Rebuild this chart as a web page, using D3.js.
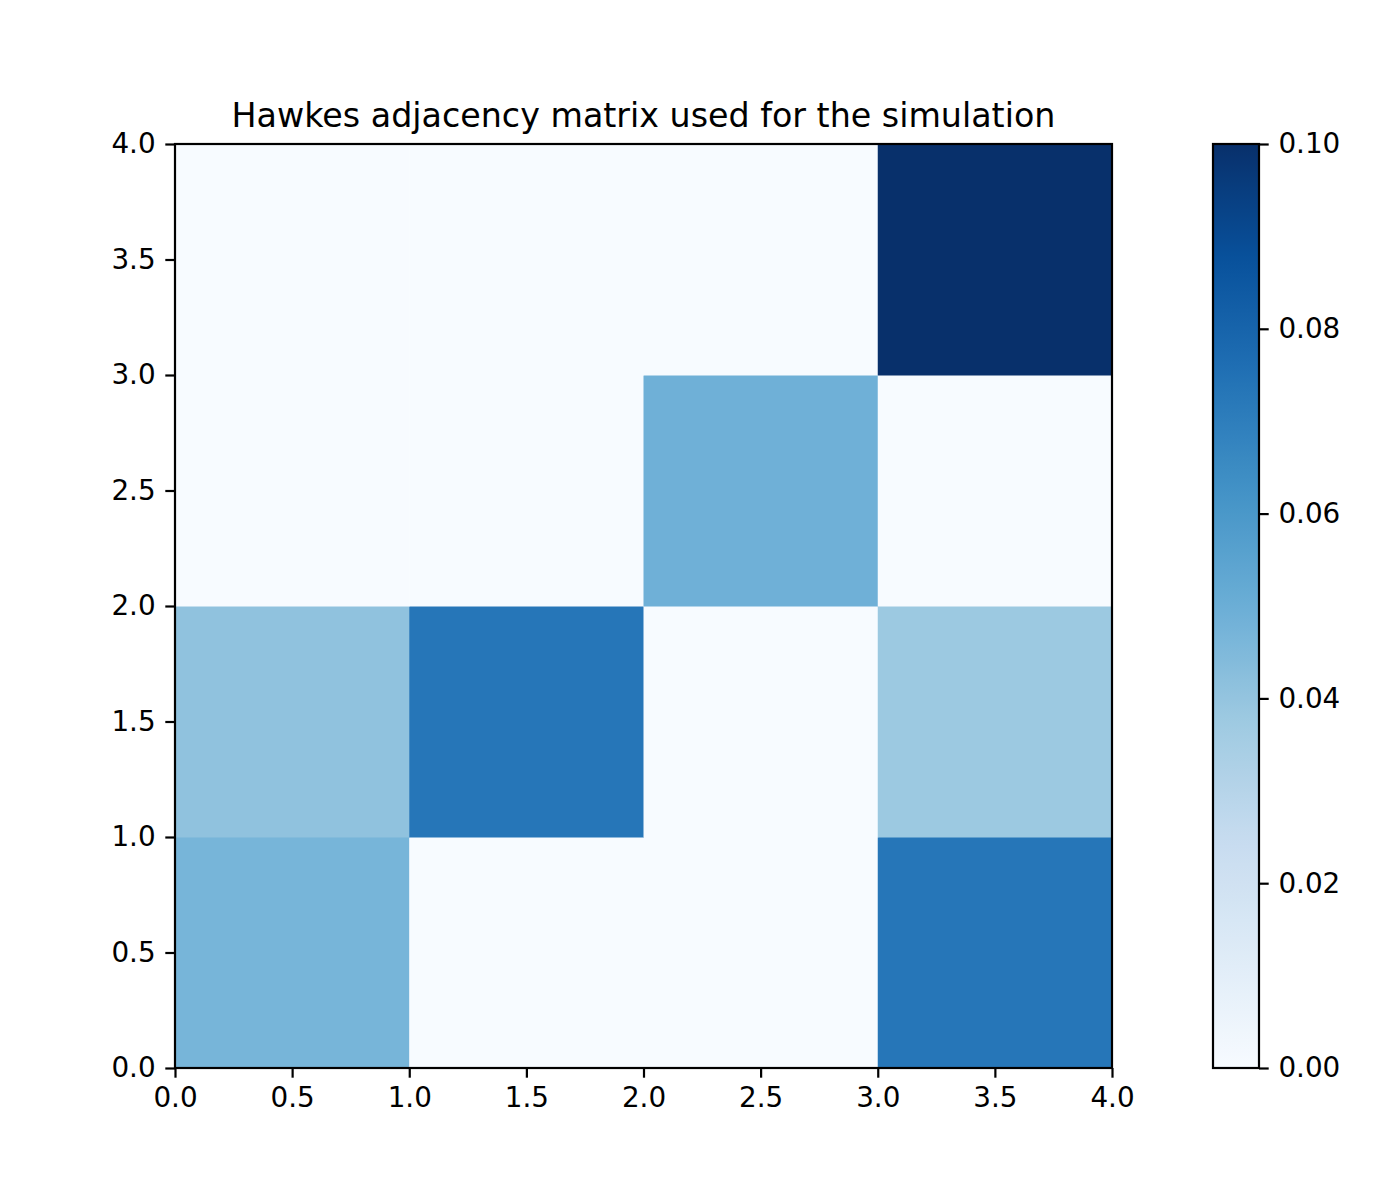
<!DOCTYPE html>
<html>
<head>
<meta charset="utf-8">
<script src="https://cdn.jsdelivr.net/npm/d3@7"></script>
<style>
  body { margin: 0; background: #fff; }
  text { font-family: "DejaVu Sans", sans-serif; }
</style>
</head>
<body>
<div id="chart"></div>
<script>
"use strict";

// adjacency matrix, row i covers y in [i, i+1], column j covers x in [j, j+1]
var rowLabels = [0, 1, 2, 3];
var colLabels = [0, 1, 2, 3];
var adjacency = [
    [0.047, 0.000, 0.000, 0.073],
    [0.041, 0.073, 0.000, 0.038],
    [0.000, 0.000, 0.049, 0.000],
    [0.000, 0.000, 0.000, 0.100]
];
var axisTicks = [0, 0.5, 1, 1.5, 2, 2.5, 3, 3.5, 4];
var colorbarTicks = [0, 0.02, 0.04, 0.06, 0.08, 0.10];
var vmin = 0, vmax = 0.1;
var title = "Hawkes adjacency matrix used for the simulation";

// matplotlib "Blues" colormap segments
var bluesStops = ["#f7fbff", "#deebf7", "#c6dbef", "#9ecae1", "#6baed6",
                  "#4292c6", "#2171b5", "#08519c", "#08306b"];

var svg_dx = 1400,
    svg_dy = 1200,
    margin = {top: 144, left: 175},
    plot_dx = 937,
    plot_dy = 924,
    cb = {left: 1213, width: 46},
    fontSize = 27.8,
    tickLen = 9.7,
    lw = 2.2;

var svg = d3.select("#chart")
    .append("svg")
    .attr("width", svg_dx)
    .attr("height", svg_dy);

var x = d3.scaleLinear().domain([0, 4]).range([margin.left, margin.left + plot_dx]),
    y = d3.scaleLinear().domain([0, 4]).range([margin.top + plot_dy, margin.top]);

var color = d3.scaleLinear()
    .domain(bluesStops.map((c, i) => vmin + (vmax - vmin) * i / (bluesStops.length - 1)))
    .range(bluesStops)
    .interpolate(d3.interpolateRgb)
    .clamp(true);

// cells
var cells = [];
adjacency.forEach((row, i) => row.forEach((v, j) => cells.push({r: rowLabels[i], c: colLabels[j], v: v})));

svg.append("g")
    .selectAll("rect")
    .data(cells)
    .enter()
    .append("rect")
    .attr("x", d => x(d.c))
    .attr("y", d => y(d.r + 1))
    .attr("width", d => x(d.c + 1) - x(d.c) + 0.5)
    .attr("height", d => y(d.r) - y(d.r + 1) + 0.5)
    .attr("fill", d => color(d.v));

function styleAxis(g) {
    g.selectAll(".domain").remove();
    g.selectAll(".tick line").attr("stroke", "#000").attr("stroke-width", lw);
    g.selectAll(".tick text").attr("font-size", fontSize).attr("fill", "#000")
        .attr("font-family", "DejaVu Sans");
}

var axis_x = d3.axisBottom(x).tickValues(axisTicks).tickFormat(d3.format(".1f"))
    .tickSize(tickLen).tickPadding(tickLen);
var axis_y = d3.axisLeft(y).tickValues(axisTicks).tickFormat(d3.format(".1f"))
    .tickSize(tickLen).tickPadding(tickLen);

svg.append("g")
    .attr("transform", "translate(0," + (margin.top + plot_dy) + ")")
    .call(axis_x)
    .call(styleAxis);

svg.append("g")
    .attr("transform", "translate(" + margin.left + ",0)")
    .call(axis_y)
    .call(styleAxis);

// spines
svg.append("rect")
    .attr("x", margin.left)
    .attr("y", margin.top)
    .attr("width", plot_dx)
    .attr("height", plot_dy)
    .attr("fill", "none")
    .attr("stroke", "#000")
    .attr("stroke-width", lw);

// title
svg.append("text")
    .attr("x", margin.left + plot_dx / 2)
    .attr("y", margin.top - 16.7)
    .attr("text-anchor", "middle")
    .attr("font-size", 33.3)
    .text(title);

// colorbar
var cbScale = d3.scaleLinear().domain([vmin, vmax]).range([margin.top + plot_dy, margin.top]);

var grad = svg.append("defs").append("linearGradient")
    .attr("id", "cbgrad")
    .attr("x1", 0).attr("y1", 1).attr("x2", 0).attr("y2", 0);
grad.selectAll("stop")
    .data(d3.range(0, 1.0001, 0.02))
    .enter()
    .append("stop")
    .attr("offset", d => d)
    .attr("stop-color", d => color(vmin + d * (vmax - vmin)));

svg.append("rect")
    .attr("x", cb.left)
    .attr("y", margin.top)
    .attr("width", cb.width)
    .attr("height", plot_dy)
    .attr("fill", "url(#cbgrad)")
    .attr("stroke", "#000")
    .attr("stroke-width", lw);

var axis_cb = d3.axisRight(cbScale).tickValues(colorbarTicks).tickFormat(d3.format(".2f"))
    .tickSize(tickLen).tickPadding(tickLen);

svg.append("g")
    .attr("transform", "translate(" + (cb.left + cb.width) + ",0)")
    .call(axis_cb)
    .call(styleAxis);
</script>
</body>
</html>
